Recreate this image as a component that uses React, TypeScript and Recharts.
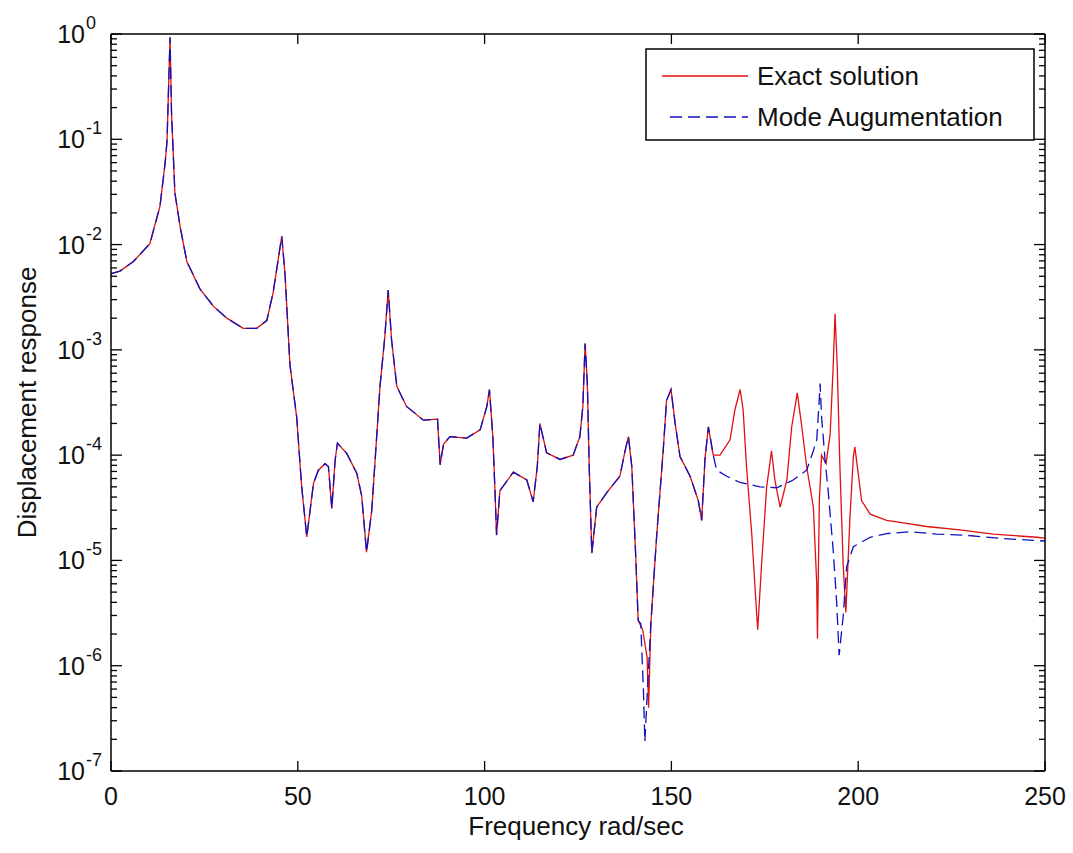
import { LineChart, Line, XAxis, YAxis, Legend } from 'recharts'

// points where both curves lie on top of each other
const freqCommon = [
  0, 2.4, 6, 10.4, 13.1, 14.5, 15.0, 15.8, 16.2, 17.1, 18.5, 20.3, 23.8, 27.4, 31, 35.4, 39, 41.7, 43.4,
  44.8, 45.7, 46.6, 47.9, 49.7, 51, 52.4, 54.2, 55.5, 57.3, 58.2, 59.1, 60, 60.6, 63.1, 65.8, 67.1, 68.4,
  69.8, 70.7, 72, 73.3, 74.2, 75.1, 76.5, 79.1, 83.6, 87.4, 88.1, 89, 90.7, 95.2, 98.8, 100.6, 101.3, 102.2,
  102.8, 103.2, 104.1, 107.7, 111.3, 113, 114.1, 114.8, 116.6, 120.2, 123.7, 125.5, 126.3, 126.9, 127.5,
  128, 128.7, 130, 132.7, 136.2, 137.6, 138.5, 139.4, 140.5, 141.1,
  145.2, 146.1, 147.8, 148.7, 149.9, 151, 152.3, 155, 157.2, 158.1, 159, 159.9, 161.2,
]
const respCommon = [
  5.3e-3, 5.6e-3, 6.9e-3, 1.02e-2, 2.3e-2, 6e-2, 9.7e-2, 0.93, 0.18, 3.1e-2, 1.48e-2, 6.9e-3, 3.8e-3, 2.6e-3, 2.0e-3, 1.6e-3, 1.6e-3, 1.9e-3, 3.5e-3,
  7.4e-3, 1.2e-2, 5.1e-3, 7.2e-4, 2.3e-4, 5.2e-5, 1.67e-5, 5.4e-5, 7.2e-5, 8.3e-5, 7.8e-5, 3.1e-5, 9e-5, 1.3e-4, 1.04e-4, 6.7e-5, 4.1e-5, 1.2e-5,
  3.0e-5, 9e-5, 4.5e-4, 1.34e-3, 3.7e-3, 1.24e-3, 4.5e-4, 2.9e-4, 2.15e-4, 2.2e-4, 8.1e-5, 1.27e-4, 1.5e-4, 1.45e-4, 1.74e-4, 2.9e-4, 4.2e-4, 1.5e-4,
  4.4e-5, 1.74e-5, 4.6e-5, 6.9e-5, 5.8e-5, 3.6e-5, 7.8e-5, 2.0e-4, 1.05e-4, 9.1e-5, 1.0e-4, 1.5e-4, 2.9e-4, 1.15e-3, 4.8e-4,
  7.8e-5, 1.17e-5, 3.2e-5, 4.4e-5, 6.3e-5, 1.1e-4, 1.5e-4, 7.8e-5, 1e-5, 2.7e-6,
  6e-6, 1.8e-5, 1.1e-4, 3.3e-4, 4.2e-4, 2.0e-4, 9.7e-5, 6.3e-5, 3.7e-5, 2.4e-5, 9.3e-5, 1.86e-4, 1.0e-4,
]

const freqExactOnly = [
  142.3, 143.5, 143.9, 144.5,
  163, 165.7, 167, 168.4, 169.2, 170.1, 171.5, 172.8, 173.1, 174.1, 175.5, 176.8, 177.7, 179.1, 180.9, 182.2,
  183.7, 184.9, 186.2, 188, 188.9, 189.1, 189.6, 190.2, 191.4, 192.5, 193.3, 193.8, 194.4, 195.1, 196, 196.7,
  197.8, 198.7, 199.1, 200, 200.9, 203.2, 207.6, 211.2, 218.3, 227.2, 236.2, 247.8, 250,
]
const respExactOnly = [
  2.2e-6, 1.2e-6, 4e-7, 2.5e-6,
  1.0e-4, 1.4e-4, 2.7e-4, 4.2e-4, 2.7e-4, 7.8e-5, 1.8e-5, 3.2e-6, 2.2e-6, 8.7e-6, 5e-5, 1.1e-4, 5.8e-5, 3.2e-5, 5.8e-5, 1.86e-4,
  3.9e-4, 1.86e-4, 7.8e-5, 3.2e-5, 6e-6, 1.8e-6, 3.7e-5, 1e-4, 8.3e-5, 1.6e-4, 6.9e-4, 2.2e-3, 6.9e-4, 7.8e-5, 8.7e-6, 3.2e-6,
  2.6e-5, 9.7e-5, 1.2e-4, 6.7e-5, 3.7e-5, 2.75e-5, 2.4e-5, 2.3e-5, 2.1e-5, 1.95e-5, 1.78e-5, 1.66e-5, 1.63e-5,
]

const freqModeOnly = [
  141.8, 142.5, 142.9, 143.6, 144.5,
  162.1, 164.8, 168.4, 173.7, 178.2, 182.6, 186.2, 188, 188.9, 189.5, 189.8, 190.2, 191.1, 192, 193.3, 194.2,
  194.9, 196, 196.9, 198.7, 203.2, 207.6, 213.9, 221, 229, 238, 246.9, 250,
]
const respModeOnly = [
  2.5e-6, 6e-7, 1.9e-7, 6e-7, 2.5e-6,
  7.2e-5, 6.3e-5, 5.5e-5, 5e-5, 4.9e-5, 5.8e-5, 7.2e-5, 1.1e-4, 1.4e-4, 3e-4, 4.8e-4, 2.3e-4, 9.3e-5, 4.4e-5, 1.26e-5, 4.2e-6,
  1.26e-6, 3e-6, 8.7e-6, 1.35e-5, 1.66e-5, 1.8e-5, 1.87e-5, 1.78e-5, 1.73e-5, 1.62e-5, 1.55e-5, 1.53e-5,
]

const xTicks = [0, 50, 100, 150, 200, 250]
const yDecades = [1e-7, 1e-6, 1e-5, 1e-4, 1e-3, 1e-2, 1e-1, 1]
const minorSteps = [2, 3, 4, 5, 6, 7, 8, 9]

const FONT = '"Liberation Sans", Arial, sans-serif'

function buildSeries(fa: number[], va: number[], fb: number[], vb: number[]) {
  const pts = [
    ...fa.map((f, i) => ({ f, v: va[i] })),
    ...fb.map((f, i) => ({ f, v: vb[i] })),
  ]
  return pts.sort((a, b) => a.f - b.f)
}

const exactData = buildSeries(freqCommon, respCommon, freqExactOnly, respExactOnly)
const modeData = buildSeries(freqCommon, respCommon, freqModeOnly, respModeOnly)

const yTicks: number[] = []
yDecades.forEach((d, i) => {
  yTicks.push(d)
  if (i < yDecades.length - 1) minorSteps.forEach(m => yTicks.push(m * d))
})

const isMajor = (v: number) => Math.abs(Math.log10(v) - Math.round(Math.log10(v))) < 1e-6

function BottomTick(props: any) {
  const { x, y, payload } = props
  return (
    <g>
      <line x1={x} x2={x} y1={y} y2={y - 10} stroke="#000" strokeWidth={1.3} />
      <text x={x} y={y + 34} textAnchor="middle" fontSize={25} fontFamily={FONT} fill="#111">
        {payload.value}
      </text>
    </g>
  )
}

function TopTick(props: any) {
  const { x, y } = props
  return <line x1={x} x2={x} y1={y} y2={y + 10} stroke="#000" strokeWidth={1.3} />
}

function LeftTick(props: any) {
  const { x, y, payload } = props
  const major = isMajor(payload.value)
  const exp = Math.round(Math.log10(payload.value))
  return (
    <g>
      <line x1={x} x2={x + (major ? 11 : 6)} y1={y} y2={y} stroke="#000" strokeWidth={1.3} />
      {major && (
        <>
          <text x={x - 26} y={y + 9} textAnchor="end" fontSize={25} fontFamily={FONT} fill="#111">10</text>
          <text x={x - 25} y={y - 5} textAnchor="start" fontSize={18} fontFamily={FONT} fill="#111">{exp}</text>
        </>
      )}
    </g>
  )
}

function RightTick(props: any) {
  const { x, y, payload } = props
  const major = isMajor(payload.value)
  return <line x1={x} x2={x - (major ? 11 : 6)} y1={y} y2={y} stroke="#000" strokeWidth={1.3} />
}

function LegendBox(props: any) {
  const { payload } = props
  return (
    <svg width={390} height={93} style={{ display: 'block' }}>
      <rect x={1} y={1} width={388} height={91} fill="#fff" stroke="#000" strokeWidth={1.5} />
      {(payload || []).map((entry: any, i: number) => (
        <g key={entry.value}>
          <line
            x1={i === 0 ? 17 : 25}
            x2={103}
            y1={28 + i * 41}
            y2={28 + i * 41}
            stroke={entry.color}
            strokeWidth={1.3}
            strokeDasharray={entry.payload?.strokeDasharray}
          />
          <text x={112} y={37 + i * 41} fontSize={26} fontFamily={FONT} fill="#111">
            {entry.value}
          </text>
        </g>
      ))}
    </svg>
  )
}

export default function App() {
  return (
    <div style={{ position: 'absolute', left: 0, top: 0, width: 1073, height: 853, background: '#fff' }}>
      <LineChart width={1073} height={853} margin={{ top: 0, right: 0, bottom: 0, left: 0 }}>
        <XAxis
          xAxisId="bottom"
          dataKey="f"
          type="number"
          domain={[0, 250]}
          ticks={xTicks}
          interval={0}
          height={82}
          tickSize={0}
          tickMargin={0}
          tick={<BottomTick />}
          axisLine={{ stroke: '#000', strokeWidth: 1.5 }}
          allowDataOverflow
          label={(p: any) => (
            <text
              x={576}
              y={p.viewBox ? p.viewBox.y + 64 : 835}
              textAnchor="middle"
              fontSize={26}
              fontFamily={FONT}
              fill="#111"
            >
              Frequency rad/sec
            </text>
          )}
        />
        <XAxis
          xAxisId="top"
          orientation="top"
          dataKey="f"
          type="number"
          domain={[0, 250]}
          ticks={xTicks}
          interval={0}
          height={34}
          tickSize={0}
          tickMargin={0}
          tick={<TopTick />}
          axisLine={{ stroke: '#000', strokeWidth: 1.5 }}
          allowDataOverflow
        />
        <YAxis
          yAxisId="left"
          type="number"
          scale="log"
          domain={[1e-7, 1]}
          ticks={yTicks}
          interval={0}
          width={111}
          tickSize={0}
          tickMargin={0}
          tick={<LeftTick />}
          axisLine={{ stroke: '#000', strokeWidth: 1.5 }}
          allowDataOverflow
          label={(p: any) => {
            const cy = p.viewBox ? p.viewBox.y + p.viewBox.height / 2 : 403
            return (
              <text
                x={27}
                y={cy}
                transform={`rotate(-90, 27, ${cy})`}
                textAnchor="middle"
                dominantBaseline="central"
                fontSize={26}
                fontFamily={FONT}
                fill="#111"
              >
                Displacement response
              </text>
            )
          }}
        />
        <YAxis
          yAxisId="right"
          orientation="right"
          type="number"
          scale="log"
          domain={[1e-7, 1]}
          ticks={yTicks}
          interval={0}
          width={28}
          tickSize={0}
          tickMargin={0}
          tick={<RightTick />}
          axisLine={{ stroke: '#000', strokeWidth: 1.5 }}
          allowDataOverflow
        />
        <Legend
          layout="horizontal"
          verticalAlign="middle"
          align="center"
          wrapperStyle={{ position: 'absolute', left: 645, top: 48, width: 390, height: 93 }}
          content={<LegendBox />}
        />
        <Line
          xAxisId="bottom"
          yAxisId="left"
          data={exactData}
          dataKey="v"
          name="Exact solution"
          type="linear"
          stroke="#e01010"
          strokeWidth={1.3}
          dot={false}
          isAnimationActive={false}
        />
        <Line
          xAxisId="bottom"
          yAxisId="left"
          data={modeData}
          dataKey="v"
          name="Mode Augumentation"
          type="linear"
          stroke="#1010c0"
          strokeWidth={1.3}
          strokeDasharray="12 6"
          dot={false}
          isAnimationActive={false}
        />
      </LineChart>
    </div>
  )
}
